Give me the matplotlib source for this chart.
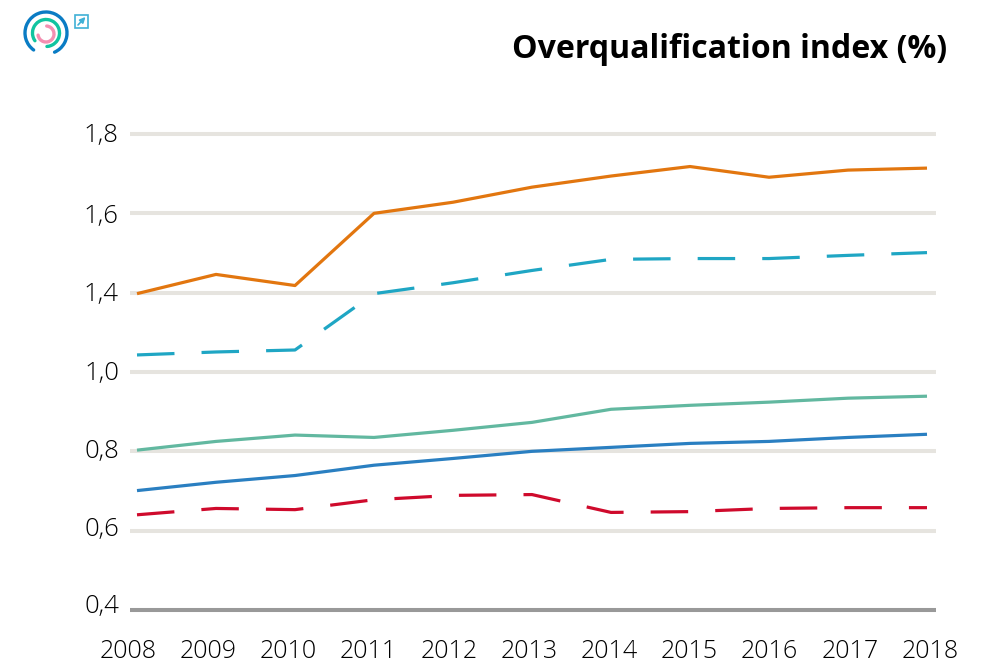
import numpy as np
from matplotlib import pyplot as plt
from matplotlib.patches import Arc, Rectangle
from matplotlib.transforms import ScaledTranslation

years = list(range(2008, 2019))
orange = [1.395, 1.446, 1.418, 1.600, 1.628, 1.666, 1.694, 1.718, 1.691, 1.709, 1.714]
teal = [1.086, 1.101, 1.111, 1.395, 1.425, 1.456, 1.484, 1.486, 1.486, 1.494, 1.501]
green = [0.803, 0.825, 0.841, 0.835, 0.853, 0.873, 0.906, 0.916, 0.924, 0.934, 0.939]
blue = [0.701, 0.722, 0.739, 0.765, 0.782, 0.800, 0.810, 0.820, 0.825, 0.835, 0.843]
red = [0.640, 0.656, 0.653, 0.678, 0.689, 0.691, 0.646, 0.648, 0.656, 0.658, 0.658]

y_ticks = [0.4, 0.6, 0.8, 1.0, 1.4, 1.6, 1.8]
y_labels = ['0,4', '0,6', '0,8', '1,0', '1,4', '1,6', '1,8']
title = 'Overqualification index (%)'

W, H = 999, 666


# the axis has no 1,2: the ticks are evenly spaced but jump from 1,0 to 1,4
def forward(v):
    return np.interp(v, y_ticks, range(len(y_ticks)))


def inverse(p):
    return np.interp(p, range(len(y_ticks)), y_ticks)


plt.rcParams['font.family'] = ['Open Sans', 'DejaVu Sans']
plt.rcParams['lines.scale_dashes'] = False

fig = plt.figure(figsize=(W / 100, H / 100), dpi=100)
left, right, top, bottom = 130, 936, 134, 610
ax = fig.add_axes([left / W, 1 - bottom / H, (right - left) / W, (bottom - top) / H])
ax.set_yscale('function', functions=(forward, inverse))

ax.grid(axis='y', color='#e6e4df', linewidth=2.9, clip_on=False, solid_capstyle='butt')
ax.set_axisbelow(True)
for s in ['top', 'right', 'left', 'bottom']:
    ax.spines[s].set_visible(False)
ax.axhline(0.4, color='#999999', linewidth=2.9, clip_on=False, zorder=2, solid_capstyle='butt')

dash = (0, (27, 19.5))
ax.plot(years, orange, color='#e2760f', linewidth=2.3, zorder=3, solid_capstyle='butt')
ax.plot(years, teal, color='#1fa6c4', linewidth=2.3, linestyle=dash, dash_capstyle='butt', zorder=3)
ax.plot(years, green, color='#62b8a0', linewidth=2.3, zorder=3, solid_capstyle='butt')
ax.plot(years, blue, color='#2a7fc1', linewidth=2.3, zorder=3, solid_capstyle='butt')
ax.plot(years, red, color='#cf0a2c', linewidth=2.3, linestyle=dash, dash_capstyle='butt', zorder=3)

ax.set_yticks(y_ticks)
ax.set_yticklabels(y_labels, fontsize=18.5, color='black', fontweight='light')
ax.minorticks_off()
ax.set_xticks(years)
ax.set_xticklabels(years, fontsize=18, color='black', fontweight='light')
ax.tick_params(axis='both', length=0)
ax.tick_params(axis='y', pad=8)
ax.tick_params(axis='x', pad=21)
ax.set_xlim(2008 - 7 / 79, 2018 + 9 / 79)
ax.set_ylim(0.4, 1.8)

# the y labels drift above their gridlines towards the bottom of the chart
for lab, up in zip(ax.get_yticklabels(), [5, 3, 2, 1, 1, 0, 1]):
    lab.set_transform(lab.get_transform() + ScaledTranslation(0, up / 72, fig.dpi_scale_trans))
# year labels sit slightly wider apart than the points
for i, lab in enumerate(ax.get_xticklabels()):
    lab.set_transform(lab.get_transform() + ScaledTranslation((-9 + 1.2 * i) / 100, 0, fig.dpi_scale_trans))

fig.text(947 / W, 1 - 49 / H, title, ha='right', va='center', fontsize=23.1, fontweight='bold', color='black')

# logo and link icon, in pixel coordinates (y runs downward, so angles go clockwise)
over = fig.add_axes([0, 0, 1, 1], facecolor='none')
over.set_xlim(0, W)
over.set_ylim(H, 0)
over.axis('off')
over.add_patch(Arc((46, 33), 42, 42, theta1=126, theta2=426, color='#0a7cc4', linewidth=2.4, capstyle='round'))
over.add_patch(Arc((46, 33), 27, 27, theta1=145, theta2=446, color='#10c4a0', linewidth=2.4, capstyle='round'))
over.add_patch(Arc((46, 34), 16, 16, theta1=-85, theta2=172, color='#f48fb1', linewidth=2.4, capstyle='round'))
over.add_patch(Rectangle((74.5, 14.5), 13.5, 13.5, fill=False, edgecolor='#3fb0d6', linewidth=1.2))
over.annotate('', xy=(85.5, 17), xytext=(78, 25),
              arrowprops=dict(arrowstyle='-|>', color='#3fb0d6', lw=1.2, mutation_scale=8, shrinkA=0, shrinkB=0))

fig.savefig('out.png', dpi=100)
